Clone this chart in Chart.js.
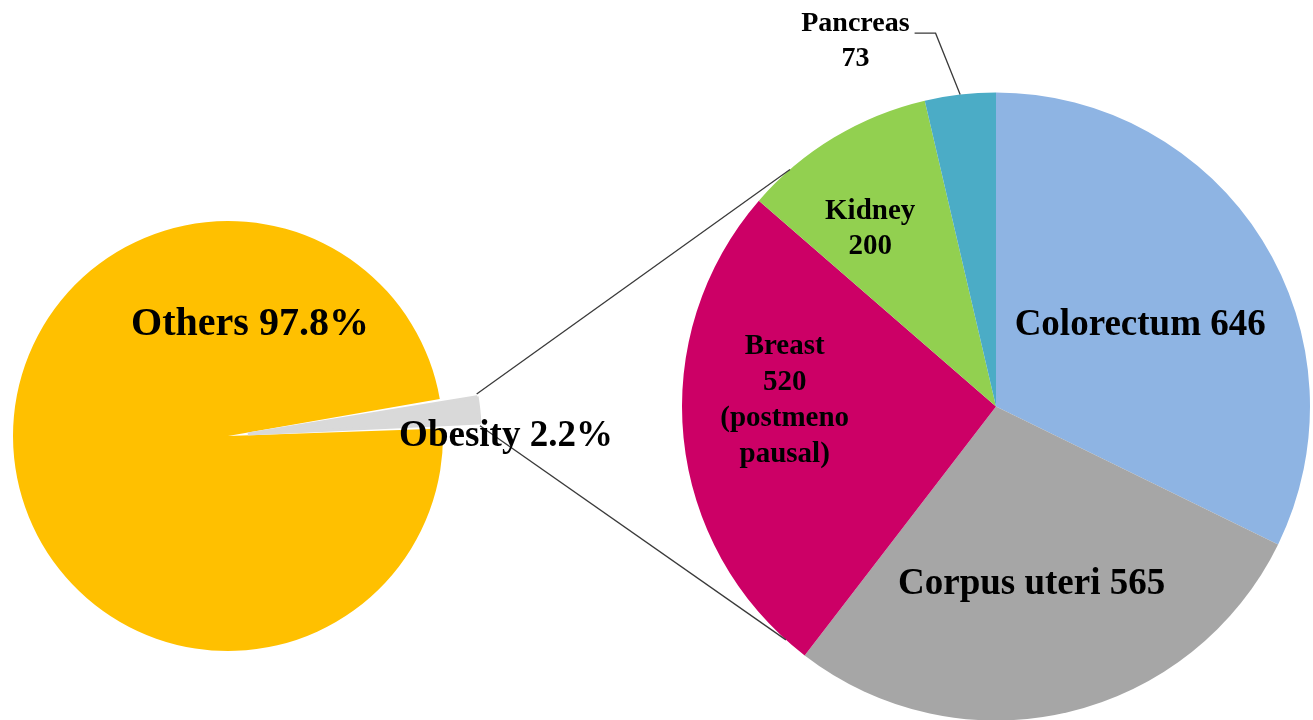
<!DOCTYPE html>
<html>
<head>
<meta charset="utf-8">
<script src="https://cdn.jsdelivr.net/npm/chart.js@4.4.1/dist/chart.umd.min.js"></script>
<style>
  body { margin: 0; background: #fff; }
  canvas { position: absolute; left: 0; top: 0; }
</style>
</head>
<body>
<canvas id="left-pie" width="1313" height="720"></canvas>
<canvas id="right-pie" width="1313" height="720"></canvas>
<script>
// all cancers split: obesity-attributable share
var leftLabels = ['Others', 'Obesity'];
var leftValues = [97.8, 2.2];
var leftColors = ['#FFC000', '#D9D9D9'];

// obesity-attributable cases by site
var rightLabels = ['Colorectum', 'Corpus uteri', 'Breast', 'Kidney', 'Pancreas'];
var rightValues = [646, 565, 520, 200, 73];
var rightColors = ['#8EB4E3', '#A6A6A6', '#CC0066', '#92D050', '#4BACC6'];
var breastNote = ['(postmeno', 'pausal)'];

// label placement: fraction of radius along the slice's mid angle, then a nudge
var leftPlace = [
  {frac: 0, dx: 22, dy: -111, size: 40, gap: 0},
  {frac: 1.3, dx: 0, dy: 29, size: 37, gap: 0}
];
var rightPlace = [
  {frac: 0.53, dx: 3, dy: 7, size: 37, gap: 0},
  {frac: 0.58, dx: -6, dy: 1, size: 37, gap: 0},
  {frac: 0.67, dx: -2, dy: -27, size: 29, gap: 36},
  {frac: 0.69, dx: -14, dy: 8, size: 29, gap: 35},
  {frac: 1.16, dx: -99, dy: -3, size: 28, gap: 35}
];
// where the two connector lines meet the right pie (screen degrees)
var connectorAngles = [-131, 132];

function leftText(i){
  return [leftLabels[i] + ' ' + leftValues[i] + '%'];
}
function rightText(i){
  if (i < 2) return [rightLabels[i] + ' ' + rightValues[i]];
  var lines = [rightLabels[i], String(rightValues[i])];
  if (rightLabels[i] === 'Breast') lines = lines.concat(breastNote);
  return lines;
}

function drawLabel(ctx, el, place, lines){
  var mid = (el.startAngle + el.endAngle) / 2;
  var r = el.outerRadius * place.frac;
  var x = el.x + Math.cos(mid) * r + place.dx;
  var y = el.y + Math.sin(mid) * r + place.dy;
  ctx.font = 'bold ' + place.size + 'px "Liberation Serif", "Times New Roman", serif';
  ctx.fillStyle = '#000';
  ctx.textAlign = 'center';
  ctx.textBaseline = 'middle';
  var top = y - (lines.length - 1) * place.gap / 2;
  lines.forEach(function(t, k){ ctx.fillText(t, x, top + k * place.gap); });
  return {x: x, y: top};
}

var leftChart = new Chart(document.getElementById('left-pie').getContext('2d'), {
  type: 'pie',
  data: {
    labels: leftLabels,
    datasets: [{
      data: leftValues,
      backgroundColor: leftColors,
      borderColor: leftColors,
      borderWidth: [0, 3],
      offset: [0, 80]
    }]
  },
  options: {
    responsive: false,
    animation: false,
    rotation: 88,
    radius: 215,
    layout: {padding: {left: 0, right: 857, top: 152, bottom: 0}},
    plugins: {legend: {display: false}, tooltip: {enabled: false}}
  }
});

var overlay = {
  id: 'overlay',
  afterDraw: function(chart){
    var ctx = chart.ctx;
    var rmeta = chart.getDatasetMeta(0);
    var lmeta = leftChart.getDatasetMeta(0);
    ctx.save();

    // connector lines from the obesity wedge to the second pie
    var g = lmeta.data[1];
    var off = (g.options.offset || 0) / 4;
    var gm = (g.startAngle + g.endAngle) / 2;
    var ax = g.x + Math.cos(gm) * off, ay = g.y + Math.sin(gm) * off;
    var gr = g.outerRadius + off * (1 - Math.sin(Math.min(Math.PI, g.endAngle - g.startAngle)));
    var c = rmeta.data[0];
    var ends = [g.startAngle, g.endAngle];
    ctx.strokeStyle = '#3a3a3a';
    ctx.lineWidth = 1.3;
    ends.forEach(function(a, k){
      var t = connectorAngles[k] * Math.PI / 180;
      ctx.beginPath();
      ctx.moveTo(ax + Math.cos(a) * gr, ay + Math.sin(a) * gr);
      ctx.lineTo(c.x + Math.cos(t) * c.outerRadius, c.y + Math.sin(t) * c.outerRadius);
      ctx.stroke();
    });

    // labels
    lmeta.data.forEach(function(el, i){ drawLabel(ctx, el, leftPlace[i], leftText(i)); });
    rmeta.data.forEach(function(el, i){
      var p = drawLabel(ctx, el, rightPlace[i], rightText(i));
      if (rightPlace[i].frac > 1) {
        // leader line for the outside label
        var mid = (el.startAngle + el.endAngle) / 2;
        var w = ctx.measureText(rightLabels[i]).width;
        var ly = p.y + 9;
        ctx.beginPath();
        ctx.moveTo(p.x + w / 2 + 5, ly);
        ctx.lineTo(p.x + w / 2 + 26, ly);
        ctx.lineTo(el.x + Math.cos(mid) * el.outerRadius, el.y + Math.sin(mid) * el.outerRadius);
        ctx.stroke();
      }
    });
    ctx.restore();
  }
};

var rightChart = new Chart(document.getElementById('right-pie').getContext('2d'), {
  type: 'pie',
  data: {
    labels: rightLabels,
    datasets: [{
      data: rightValues,
      backgroundColor: rightColors,
      borderWidth: 0
    }]
  },
  options: {
    responsive: false,
    animation: false,
    rotation: 0,
    radius: 314,
    layout: {padding: {left: 682, right: 3, top: 93, bottom: 0}},
    plugins: {legend: {display: false}, tooltip: {enabled: false}}
  },
  plugins: [overlay]
});
</script>
</body>
</html>
